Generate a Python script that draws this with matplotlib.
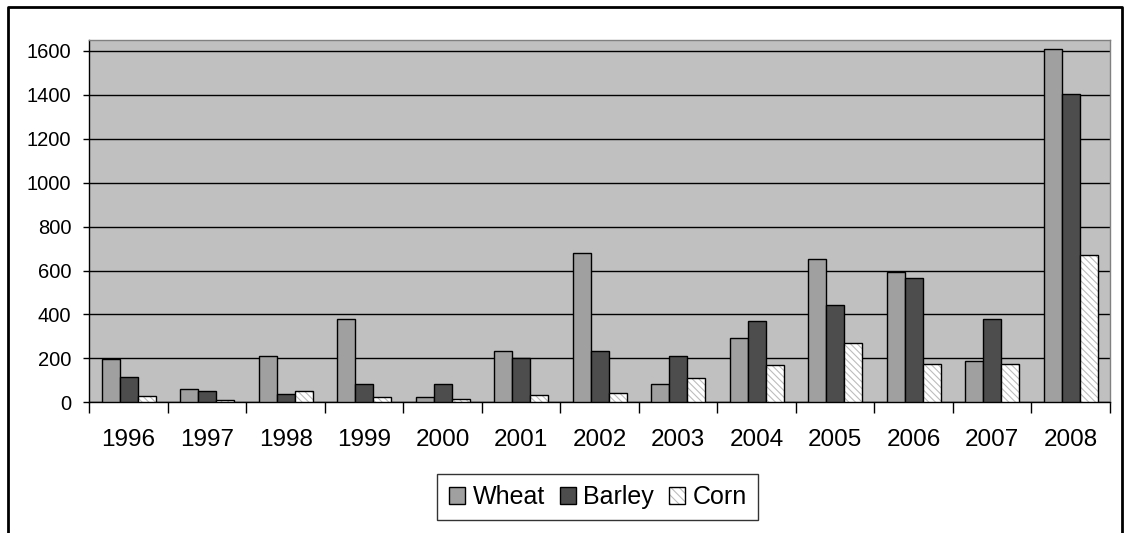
import matplotlib
matplotlib.use("Agg")
import matplotlib.pyplot as plt
import numpy as np
from matplotlib.patches import Patch
from matplotlib.lines import Line2D

plt.rcParams['font.family'] = ['Liberation Sans', 'DejaVu Sans']
plt.rcParams['hatch.linewidth'] = 0.8

years = ['1996', '1997', '1998', '1999', '2000', '2001', '2002',
         '2003', '2004', '2005', '2006', '2007', '2008']
wheat = [197, 61, 211, 378, 24, 234, 682, 82, 291, 653, 592, 188, 1608]
barley = [117, 53, 36, 82, 82, 203, 234, 211, 370, 443, 565, 378, 1404]
corn = [29, 9, 52, 24, 17, 35, 44, 109, 168, 269, 176, 176, 672]

fig = plt.figure(figsize=(11.24, 5.33), dpi=100)
ax = fig.add_axes([0.0795, 0.2452, 0.9080, 0.6798])
ax.set_facecolor('#c0c0c0')

x = np.arange(len(years))
w = 0.229

ax.bar(x - w, wheat, w, color='#a0a0a0', edgecolor='black', lw=1, zorder=3)
ax.bar(x, barley, w, color='#4d4d4d', edgecolor='black', lw=1, zorder=3)
# hatched white bars: hatch first, outline on top
ax.bar(x + w, corn, w, color='white', edgecolor='#bdbdbd', hatch='\\\\\\\\\\',
       lw=0, zorder=3)
ax.bar(x + w, corn, w, fill=False, edgecolor='black', lw=1, zorder=4)

ax.set_xlim(-0.5, len(years) - 0.5)
ax.set_ylim(0, 1650)
ax.set_yticks(range(0, 1601, 200))
ax.yaxis.grid(True, color='black', lw=1)
ax.set_axisbelow(True)

ax.set_xticks(x)
ax.set_xticklabels(years, fontsize=17.5)
ax.set_xticks(np.arange(-0.5, len(years), 1), minor=True)
ax.tick_params(axis='x', which='major', length=0, pad=19)
ax.tick_params(axis='x', which='minor', length=8, width=1, direction='out')
ax.tick_params(axis='y', length=4, width=1, labelsize=14.5, pad=9)

ax.spines['left'].set_color('black')
ax.spines['bottom'].set_color('black')
ax.spines['top'].set_color('#808080')
ax.spines['right'].set_color('#808080')
for s in ax.spines.values():
    s.set_linewidth(1)

corn_handle = (Patch(facecolor='white', edgecolor='#bdbdbd', hatch='\\\\\\\\', lw=0),
               Patch(fill=False, edgecolor='black', lw=1))
handles = [
    Patch(facecolor='#a0a0a0', edgecolor='black', lw=1),
    Patch(facecolor='#4d4d4d', edgecolor='black', lw=1),
    corn_handle,
]
leg = fig.legend(handles, ['Wheat', 'Barley', 'Corn'], ncol=3,
                 loc='center', bbox_to_anchor=(0.532, 0.0675),
                 fontsize=18, frameon=True, fancybox=False,
                 edgecolor='black', handlelength=0.65, handleheight=0.65,
                 handletextpad=0.3, columnspacing=0.6, borderpad=0.45,
                 borderaxespad=0)
leg.get_frame().set_linewidth(1)

# outer chart frame (bottom edge cut off in the reference)
fx0, fx1 = 8 / 1124, 1122 / 1124
fy = 1 - 7 / 533
fig.add_artist(Line2D([fx0, fx0, fx1, fx1], [0, fy, fy, 0],
                      color='black', lw=2, transform=fig.transFigure))

fig.savefig('out.png', dpi=100)
